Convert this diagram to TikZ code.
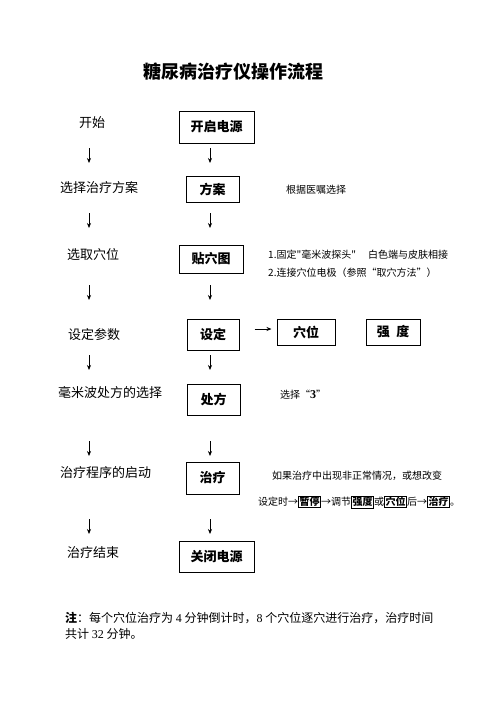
\documentclass[tikz,border=0pt]{standalone}
\usepackage{fontspec}
\setmainfont{Liberation Serif}
\newfontfamily\cjk{Noto Sans CJK SC}
\usetikzlibrary{arrows.meta}
\tikzset{
  flowbox/.style={draw, line width=1pt, inner sep=0pt, font=\cjk\bfseries\fontsize{13}{15}\selectfont},
  lefttext/.style={anchor=west, inner sep=0pt, font=\cjk\fontsize{13}{15}\selectfont},
  smalltext/.style={anchor=west, inner sep=0pt, font=\cjk\fontsize{10}{12}\selectfont},
  notetext/.style={anchor=west, inner sep=0pt, font=\cjk\fontsize{12}{14}\selectfont},
  arr/.style={-{Stealth[length=5pt,width=4pt]}, line width=0.7pt},
}
\newcommand{\ibox}[1]{{\setlength{\fboxsep}{0.6pt}\setlength{\fboxrule}{0.9pt}\fbox{\bfseries #1}}}
\begin{document}
\begin{tikzpicture}[x=1pt,y=-1pt]
\useasboundingbox[fill=white] (0,0) rectangle (496,702);
% title
\node[inner sep=0pt, font=\cjk\bfseries\fontsize{18}{20}\selectfont] (title) at (233,72) {糖尿病治疗仪操作流程};
% left column
\node[lefttext] (l1) at (79,123) {开始};
\node[lefttext] (l2) at (60,188) {选择治疗方案};
\node[lefttext] (l3) at (67,255) {选取穴位};
\node[lefttext] (l4) at (68,335) {设定参数};
\node[lefttext] (l5) at (58,393) {毫米波处方的选择};
\node[lefttext] (l6) at (60,473) {治疗程序的启动};
\node[lefttext] (l7) at (67,553) {治疗结束};
% boxes
\node[flowbox, minimum width=75pt, minimum height=32pt] (b1) at (216.5,127) {开启电源};
\node[flowbox, minimum width=53pt, minimum height=26pt] (b2) at (212.5,189) {方案};
\node[flowbox, minimum width=64pt, minimum height=28pt] (b3) at (211,259) {贴穴图};
\node[flowbox, minimum width=52pt, minimum height=31pt] (b4) at (213,334.5) {设定};
\node[flowbox, minimum width=58pt, minimum height=26pt] (b4a) at (306,332) {穴位};
\node[flowbox, minimum width=54pt, minimum height=26pt] (b4b) at (393,332) {强\hspace{0.5em}度};
\node[flowbox, minimum width=53pt, minimum height=31pt] (b5) at (213.5,399.5) {处方};
\node[flowbox, minimum width=53pt, minimum height=32pt] (b6) at (212.5,478) {治疗};
\node[flowbox, minimum width=75pt, minimum height=31pt] (b7) at (216.5,556.5) {关闭电源};
% side texts
\node[smalltext] (s2) at (286,190) {根据医嘱选择};
\node[smalltext] (s3a) at (268,255) {1.固定"毫米波探头"\hspace{1.2em}白色端与皮肤相接};
\node[smalltext] (s3b) at (268,273) {2.连接穴位电极（参照“取穴方法”）};
\node[smalltext] (s5) at (280,395) {选择“{\rmfamily\bfseries\fontsize{12}{14}\selectfont 3}”};
\node[smalltext] (s6a) at (272,476) {如果治疗中出现非正常情况，或想改变};
\node[smalltext] (s6b) at (258,502) {设定时→\ibox{暂停}→调节\ibox{强度}或\ibox{穴位}后→\ibox{治疗}。};
% note
\node[notetext] (n1) at (65,618) {{\bfseries 注}：每个穴位治疗为 {\rmfamily 4} 分钟倒计时，{\rmfamily 8} 个穴位逐穴进行治疗，治疗时间};
\node[notetext] (n2) at (65,634) {共计 {\rmfamily 32} 分钟。};
% arrows
\foreach \y/\n in {148/a,213/b,285/c,355/d,441/e,519/f}{
  \coordinate (la\n) at (89,\y);
  \coordinate (lb\n) at (89,\y+15);
  \coordinate (ra\n) at (210,\y);
  \coordinate (rb\n) at (210,\y+15);
  \draw[arr] (la\n) -- (lb\n);
  \draw[arr] (ra\n) -- (rb\n);
}
\coordinate (hs) at ([xshift=15pt,yshift=5.5pt]b4.east);
\coordinate (he) at ([xshift=-5pt,yshift=3pt]b4a.west);
\draw[arr] (hs) -- (he);
\end{tikzpicture}
\end{document}
